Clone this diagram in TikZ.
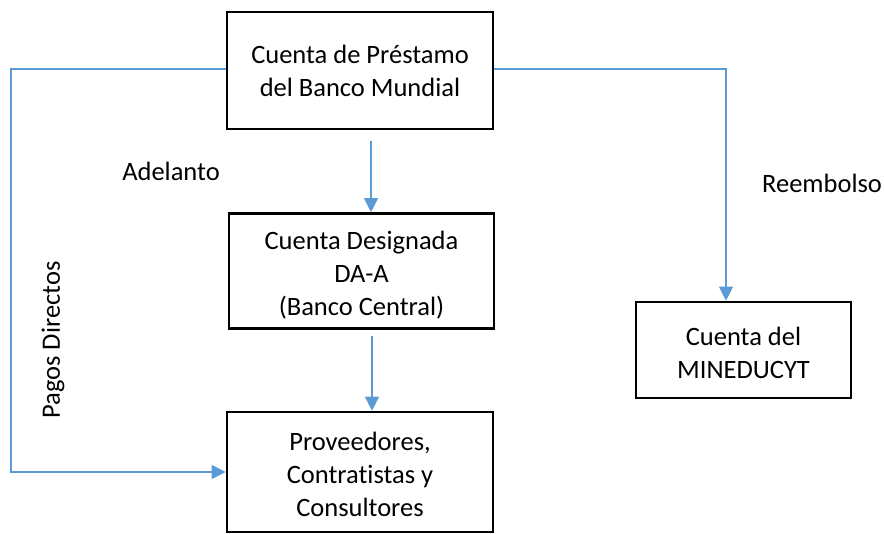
\documentclass[tikz,border=0pt]{standalone}
\usepackage{fontspec}
\setmainfont{Carlito}[Ligatures=NoCommon]
\usetikzlibrary{arrows.meta}
\definecolor{linkblue}{HTML}{5B9BD5}
\begin{document}
\begin{tikzpicture}[x=1pt,y=-1pt,
  box/.style={draw=black,line width=2.6pt,fill=white,inner sep=0pt},
  boxtext/.style={align=center,inner sep=0pt,font=\fontsize{26.5}{33}\selectfont},
  link/.style={draw=linkblue,line width=1.1pt,-{Triangle[width=14pt,length=14pt]}},
  lbl/.style={font=\fontsize{26.5}{33}\selectfont,inner sep=0pt}]
\useasboundingbox (0,0) rectangle (884,534);
\node[box,minimum width=266pt,minimum height=117pt] (bm) at (360,70.5) {};
\node[box,minimum width=265pt,minimum height=115pt] (da) at (361.5,271) {};
\node[box,minimum width=266pt,minimum height=120pt] (pv) at (360,472) {};
\node[box,minimum width=215pt,minimum height=96pt] (mi) at (743.5,350) {};
\node[boxtext] (bmt) at (bm.center) {Cuenta de Préstamo\\del Banco Mundial};
\node[boxtext] (dat) at ([yshift=-4pt]da.center) {Cuenta Designada\\DA-A\\(Banco Central)};
\node[boxtext] (pvt) at ([yshift=-2.5pt]pv.center) {Proveedores,\\Contratistas y\\Consultores};
\node[boxtext] (mit) at ([yshift=-3pt]mi.center) {Cuenta del\\MINEDUCYT};
\coordinate (a1) at (371,141);
\coordinate (a2) at (372,336);
\coordinate (lc) at (11,69);
\coordinate (ld) at (11,472);
\coordinate (rc) at (726,69);
\draw[link] (a1) -- (a1 |- da.north);
\draw[link] (a2) -- (a2 |- pv.north);
\draw[link] (bm.west |- lc) -- (lc) -- (ld) -- (pv.west |- ld);
\draw[link] (bm.east |- rc) -- (rc) -- (rc |- mi.north);
\node[lbl] (adel) at (171,171) {Adelanto};
\node[lbl] (reem) at (822,183) {Reembolso};
\node[lbl,rotate=90] (pd) at (53,340) {Pagos Directos};
\end{tikzpicture}
\end{document}
